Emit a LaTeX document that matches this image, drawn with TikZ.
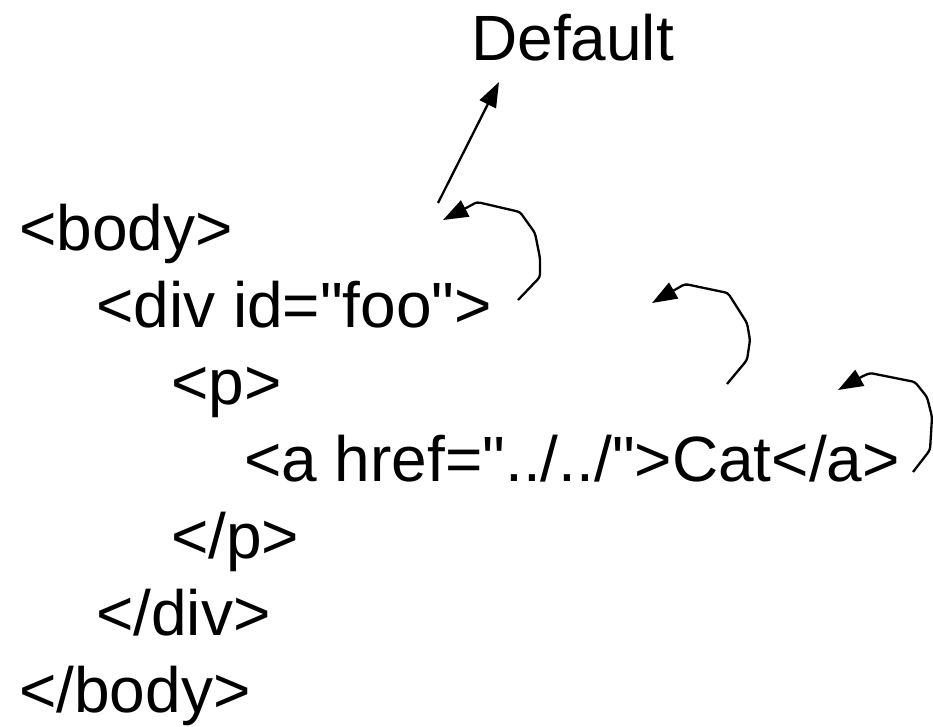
\documentclass[tikz,border=0pt]{standalone}
\usepackage{fontspec}
\newfontfamily\codefont{Liberation Sans}
\usetikzlibrary{arrows.meta}
\begin{document}
\begin{tikzpicture}[x=1pt,y=-1pt,
  code/.style={anchor=base west,inner sep=0pt,font=\codefont\fontsize{64}{77}\selectfont},
  arr/.style={line width=2.3pt,line join=round,-{Triangle[length=25pt,width=18pt]}}]
\useasboundingbox (0,0) rectangle (933,726);
\node[code] (default) at (471,60) {Default};
\node[code] (body) at (19,250) {<body>};
\node[code] (div) at (96,327) {<div id="foo">};
\node[code] (p) at (171,404) {<p>};
\node[code] (a) at (244,481) {<a href="../../">Cat</a>};
\node[code] (cp) at (171,558) {</p>};
\node[code] (cdiv) at (96,635) {</div>};
\node[code] (cbody) at (19,712) {</body>};
% straight arrow to Default
\coordinate (s0) at (438,203);
\coordinate (t0) at (499,82);
\draw[arr] (s0) -- (t0);
% curve 1
\coordinate (s1) at (518,300);
\coordinate (t1) at (443,220);
\draw[arr,rounded corners=3pt] (s1) -- (540,277) -- (540,258) -- (535,233) -- (520,212) -- (477,202) -- (468,207) -- (t1);
% curve 2
\coordinate (s2) at (727,384);
\coordinate (t2) at (652,303);
\draw[arr,rounded corners=3pt] (s2) -- (747,360) -- (750,340) -- (747,323) -- (728,293) -- (685,284) -- (678,288) -- (t2);
% curve 3
\coordinate (s3) at (913,472);
\coordinate (t3) at (838,390);
\draw[arr,rounded corners=3pt] (s3) -- (930,450) -- (932,417) -- (927,397) -- (915,382) -- (870,373) -- (863,376) -- (t3);
\end{tikzpicture}
\end{document}
